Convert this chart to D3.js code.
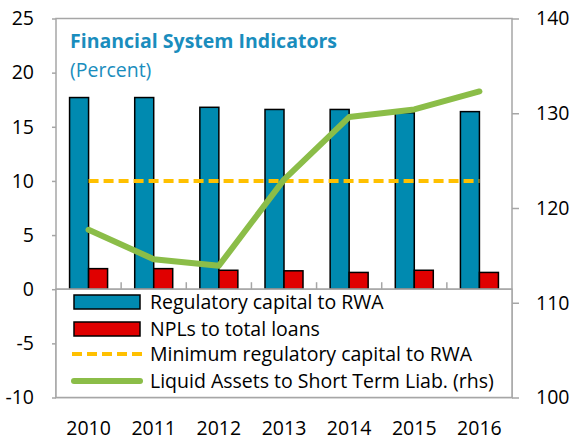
<!DOCTYPE html>
<html>
<head>
<meta charset="utf-8">
<script src="https://cdn.jsdelivr.net/npm/d3@7"></script>
<style>
  body { margin: 0; background: #fff; }
  svg text { font-family: "Open Sans", sans-serif; }
</style>
</head>
<body>
<div id="chart"></div>
<script>
const years = ["2010", "2011", "2012", "2013", "2014", "2015", "2016"];
const regCapital = [17.7, 17.7, 16.8, 16.6, 16.6, 16.3, 16.4];
const npls = [1.9, 1.9, 1.75, 1.7, 1.55, 1.75, 1.55];
const minCapital = [10, 10, 10, 10, 10, 10, 10];
const liquidAssets = [117.7, 114.6, 113.9, 123.0, 129.6, 130.4, 132.3];
const leftTicks = [-10, -5, 0, 5, 10, 15, 20, 25];
const rightTicks = [100, 110, 120, 130, 140];
const legendLabels = [
  "Regulatory capital to RWA",
  "NPLs to total loans",
  "Minimum regulatory capital to RWA",
  "Liquid Assets to Short Term Liab. (rhs)"
];

const width = 573, height = 441;
const plotLeft = 56, plotRight = 512, plotTop = 18.5, plotBottom = 397.5;
const axisGray = "#a6a6a6";
const blue = "#008ab0", red = "#e00000", orange = "#ffc000", green = "#8bbd48";
const titleColor = "#1a8dbd";
const fontSize = 19.5;

const svg = d3.select("#chart").append("svg")
  .attr("width", width)
  .attr("height", height);

const x = d3.scaleBand().domain(years).range([plotLeft, plotRight]);
const y = d3.scaleLinear().domain([-10, 25]).range([plotBottom, plotTop]);
const y2 = d3.scaleLinear().domain([100, 140]).range([plotBottom, plotTop]);
const inner = d3.scaleBand().domain([0, 1]).range([-19, 19]);
const cx = d => x(d) + x.bandwidth() / 2;

// plot frame
svg.append("rect")
  .attr("x", plotLeft).attr("y", plotTop)
  .attr("width", plotRight - plotLeft).attr("height", plotBottom - plotTop)
  .attr("fill", "none").attr("stroke", axisGray).attr("stroke-width", 1.5);

// category ticks on zero line
svg.append("g").selectAll("line")
  .data(years.slice(1))
  .join("line")
  .attr("x1", d => x(d)).attr("x2", d => x(d))
  .attr("y1", y(0)).attr("y2", y(0) - 7)
  .attr("stroke", axisGray).attr("stroke-width", 1.5);

// left axis
const yAxis = svg.append("g")
  .attr("transform", `translate(${plotLeft},0)`)
  .call(d3.axisLeft(y).tickValues(leftTicks).tickFormat(d => String(d)).tickSize(4).tickPadding(18));
yAxis.select(".domain").remove();
yAxis.selectAll("line").attr("stroke", axisGray).attr("stroke-width", 1.5);
yAxis.selectAll("text").attr("font-size", fontSize).attr("fill", "#000");

// right axis
const y2Axis = svg.append("g")
  .attr("transform", `translate(${plotRight},0)`)
  .call(d3.axisRight(y2).tickValues(rightTicks).tickFormat(d => String(d)).tickSize(7).tickPadding(17));
y2Axis.select(".domain").remove();
y2Axis.selectAll("line").attr("stroke", axisGray).attr("stroke-width", 1.5);
y2Axis.selectAll("text").attr("font-size", fontSize).attr("fill", "#000");

// x labels
svg.append("g").selectAll("text")
  .data(years)
  .join("text")
  .attr("x", cx)
  .attr("y", 435)
  .attr("text-anchor", "middle")
  .attr("font-size", fontSize)
  .text(d => d);

// bars
const groups = svg.append("g").selectAll("g")
  .data(years)
  .join("g")
  .attr("transform", d => `translate(${cx(d)},0)`);

groups.append("rect")
  .attr("x", inner(0))
  .attr("width", inner.bandwidth())
  .attr("y", (d, i) => y(regCapital[i]))
  .attr("height", (d, i) => y(0) - y(regCapital[i]))
  .attr("fill", blue).attr("stroke", "#000").attr("stroke-width", 1.5);

groups.append("rect")
  .attr("x", inner(1))
  .attr("width", inner.bandwidth())
  .attr("y", (d, i) => y(npls[i]))
  .attr("height", (d, i) => y(0) - y(npls[i]))
  .attr("fill", red).attr("stroke", "#000").attr("stroke-width", 1.5);

// zero line
svg.append("line")
  .attr("x1", plotLeft).attr("x2", plotRight)
  .attr("y1", y(0)).attr("y2", y(0))
  .attr("stroke", axisGray).attr("stroke-width", 1.5);

// minimum capital dashed line
svg.append("path")
  .datum(years)
  .attr("d", d3.line().x(cx).y((d, i) => y(minCapital[i])))
  .attr("fill", "none").attr("stroke", orange)
  .attr("stroke-width", 4).attr("stroke-dasharray", "10,5");

// liquid assets line (rhs)
svg.append("path")
  .datum(years)
  .attr("d", d3.line().x(cx).y((d, i) => y2(liquidAssets[i])))
  .attr("fill", "none").attr("stroke", green)
  .attr("stroke-width", 6).attr("stroke-linecap", "round").attr("stroke-linejoin", "round");

// title
svg.append("text")
  .attr("x", 70).attr("y", 48)
  .attr("font-size", fontSize).attr("font-weight", "bold")
  .attr("fill", titleColor)
  .text("Financial System Indicators");
svg.append("text")
  .attr("x", 70).attr("y", 77)
  .attr("font-size", fontSize)
  .attr("fill", titleColor)
  .text("(Percent)");

// legend
const legend = svg.append("g");
legend.append("rect")
  .attr("x", plotLeft).attr("y", y(0))
  .attr("width", plotRight - plotLeft).attr("height", plotBottom - y(0))
  .attr("fill", "#fff").attr("stroke", axisGray).attr("stroke-width", 1.5);

const rowY = [302, 329, 354, 381];
const items = legend.selectAll("g")
  .data(legendLabels)
  .join("g")
  .attr("transform", (d, i) => `translate(0,${rowY[i]})`);

items.filter((d, i) => i < 2).append("rect")
  .attr("x", 74).attr("y", -7)
  .attr("width", 66).attr("height", 14)
  .attr("fill", d => d === legendLabels[0] ? blue : red)
  .attr("stroke", "#000").attr("stroke-width", 1.5);

items.filter((d, i) => i === 2).append("line")
  .attr("x1", 72).attr("x2", 142)
  .attr("stroke", orange).attr("stroke-width", 4).attr("stroke-dasharray", "10,5");

items.filter((d, i) => i === 3).append("line")
  .attr("x1", 74).attr("x2", 140)
  .attr("stroke", green).attr("stroke-width", 6).attr("stroke-linecap", "round");

items.append("text")
  .attr("x", 150).attr("y", 7)
  .attr("font-size", fontSize)
  .text(d => d);
</script>
</body>
</html>
